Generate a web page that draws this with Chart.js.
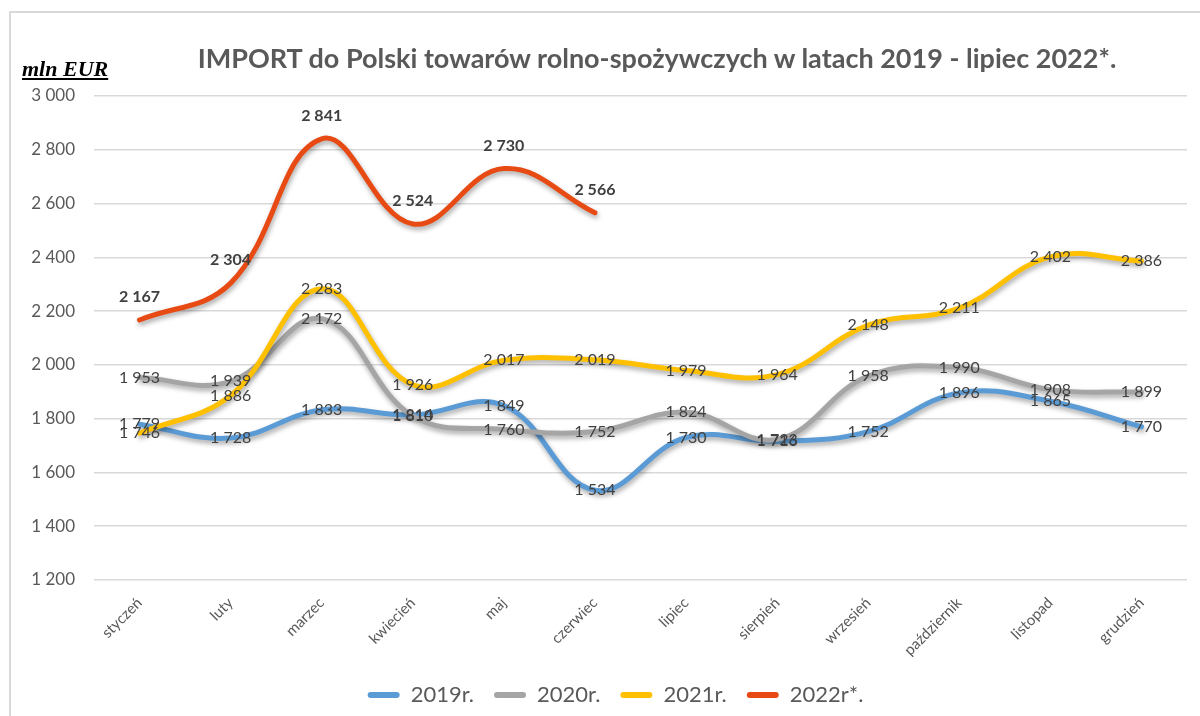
<!DOCTYPE html>
<html><head><meta charset="utf-8">
<script src="https://cdn.jsdelivr.net/npm/chart.js@4/dist/chart.umd.min.js"></script>
<style>
html,body{margin:0;padding:0;background:#fff;width:1200px;height:716px;overflow:hidden;}
#wrap{position:relative;width:1200px;height:716px;}
#frame{position:absolute;left:9px;top:11px;width:1200px;height:720px;border-left:2px solid #d9d9d9;border-top:2px solid #d9d9d9;}
#title{position:absolute;left:0;top:42px;width:1314px;text-align:center;font:bold 27px Lato, "Open Sans", sans-serif;color:#595959;line-height:32px;}
#unit{position:absolute;left:22px;top:58px;font:italic bold 22px "Liberation Serif", serif;text-decoration:underline;color:#000;line-height:22px;}
canvas{position:absolute;left:0;top:0;}
</style></head>
<body><div id="wrap">
<div id="frame"></div>
<canvas id="c" width="1200" height="716"></canvas>
<div id="title">IMPORT do Polski towarów rolno-spożywczych w latach 2019 - lipiec 2022*.</div>
<div id="unit">mln EUR</div>
</div>
<script>
const months = ['styczeń','luty','marzec','kwiecień','maj','czerwiec','lipiec','sierpień','wrzesień','październik','listopad','grudzień'];
const seriesNames = ['2019r.','2020r.','2021r.','2022r*.'];
const v2019 = [1779,1728,1833,1814,1849,1534,1730,1716,1752,1896,1865,1770];
const v2020 = [1953,1939,2172,1810,1760,1752,1824,1723,1958,1990,1908,1899];
const v2021 = [1746,1886,2283,1926,2017,2019,1979,1964,2148,2211,2402,2386];
const v2022 = [2167,2304,2841,2524,2730,2566];
const yMin = 1200, yMax = 3000, yStep = 200;
const colors = ['#5B9BD5','#A5A5A5','#FFC000','#E84A14'];

const fmt = v => { const s = String(Math.round(v)); return s.length > 3 ? s.slice(0, s.length-3) + ' ' + s.slice(-3) : s; };

const shadowPlugin = {
  id: 'shadow',
  beforeDatasetDraw(chart){ const c = chart.ctx; c.save(); c.shadowColor='rgba(0,0,0,0.35)'; c.shadowBlur=5; c.shadowOffsetX=1; c.shadowOffsetY=3; },
  afterDatasetDraw(chart){ chart.ctx.restore(); }
};
const legendShift = {
  id: 'legendShift',
  afterLayout(chart){ const l = chart.legend; if (l) { l.left += 22; l.right += 22; } }
};
const labelPlugin = {
  id: 'vals',
  afterDatasetsDraw(chart){
    const ctx = chart.ctx;
    chart.data.datasets.forEach((ds, i) => {
      const meta = chart.getDatasetMeta(i);
      const bold = i === 3;
      meta.data.forEach((pt, j) => {
        const v = ds.data[j]; if (v == null) return;
        ctx.save();
        ctx.font = (bold ? 'bold ' : '') + '16px Lato';
        ctx.fillStyle = '#404040';
        ctx.textAlign = 'center'; ctx.textBaseline = 'middle';
        ctx.fillText(fmt(v), pt.x, pt.y + (bold ? -23 : 0));
        ctx.restore();
      });
    });
  }
};

const series = [v2019, v2020, v2021, v2022];
new Chart(document.getElementById('c'), {
  type: 'line',
  data: {
    labels: months,
    datasets: series.map((d, i) => ({
      label: seriesNames[i], data: d, borderColor: colors[i], backgroundColor: colors[i],
      borderWidth: 5, tension: 0.4, pointRadius: 0, borderCapStyle: 'round', fill: false, order: 4 - i
    }))
  },
  options: {
    responsive: false, animation: false,
    layout: { padding: { top: 96, left: 0, right: 13, bottom: 0 } },
    plugins: {
      tooltip: { enabled: false },
      title: { display: false },
      legend: {
        position: 'bottom',
        labels: {
          boxWidth: 32, boxHeight: 6, useBorderRadius: true, borderRadius: 3,
          color: '#595959', font: { family: 'Lato', size: 22 }, padding: 20,
          generateLabels(chart){
            const items = Chart.defaults.plugins.legend.labels.generateLabels(chart);
            items.forEach(it => { it.lineWidth = 0; });
            return items.sort((a,b) => a.datasetIndex - b.datasetIndex);
          }
        }
      }
    },
    scales: {
      x: {
        offset: true,
        grid: { display: false, offset: true }, border: { display: false },
        ticks: { color: '#595959', font: { family: 'Lato', size: 15 }, minRotation: 45, maxRotation: 45, padding: 6, autoSkip: false },
        afterFit(s){ s.height = 84; }
      },
      y: {
        min: yMin, max: yMax,
        ticks: { stepSize: yStep, color: '#595959', font: { family: 'Lato', size: 17 }, padding: 19, callback: v => fmt(v) },
        grid: { color: '#d9d9d9', drawTicks: false, lineWidth: 1.5 },
        border: { display: false },
        afterFit(s){ s.width = 94; }
      }
    }
  },
  plugins: [shadowPlugin, labelPlugin, legendShift]
});
</script>
</body></html>
